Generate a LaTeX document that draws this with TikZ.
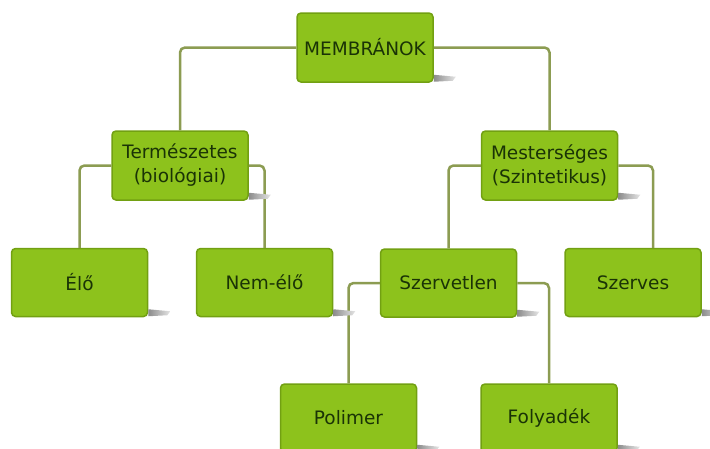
\documentclass[tikz,border=0pt]{standalone}
\usepackage{fontspec}
\setmainfont{DejaVu Sans}
\usepackage{xcolor}
\usetikzlibrary{positioning}

\definecolor{boxfill}{HTML}{8DC21C}
\definecolor{boxline}{HTML}{72A012}
\definecolor{boxtext}{HTML}{1A3306}
\definecolor{linkcol}{HTML}{8C9C52}

\begin{document}
\begin{tikzpicture}[x=1pt, y=-1pt,
  box/.style={draw=boxline, line width=1.5pt, fill=boxfill, rounded corners=4pt,
    minimum width=136pt, minimum height=68pt, align=center, inner sep=0pt,
    text=boxtext, font=\fontsize{18.5}{24}\selectfont},
  link/.style={linkcol, line width=2.5pt, rounded corners=5pt}]
\clip (0,0) rectangle (710,448);
\fill[white] (0,0) rectangle (710,448);

\node[box, minimum height=69pt] (MEM) at (365,47.5) {MEMBRÁNOK};

\node[box, minimum height=69pt] (TER) at (180,165.5) {Természetes\\(biológiai)};
\node[box, minimum height=69pt] (MES) at (549.5,165.5) {Mesterséges\\(Szintetikus)};

\node[box] (ELO) at (79.5,282.5) {Élő};
\node[box] (NEM) at (264.5,282.5) {Nem-élő};
\node[box] (SZV) at (448.5,283) {Szervetlen};
\node[box] (SZS) at (633,282.5) {Szerves};

\node[box] (POL) at (348.5,418) {Polimer};
\node[box] (FOL) at (549,418) {Folyadék};

\draw[link] (MEM.west) -| (TER.north);
\draw[link] (MEM.east) -| (MES.north);
\draw[link] (TER.west) -| (ELO.north);
\draw[link] (TER.east) -| (NEM.north);
\draw[link] (MES.west) -| (SZV.north);
\draw[link] (MES.east) -| ([xshift=20pt]SZS.north);
\draw[link] (SZV.west) -| (POL.north);
\draw[link] (SZV.east) -| (FOL.north);

% shadows
\foreach \n in {MEM,TER,MES,ELO,NEM,SZV,SZS,POL,FOL}
  \shade[left color=black!45, right color=black!10]
    ([shift={(0,-8)}]\n.south east) -- ([shift={(22,-6)}]\n.south east)
    -- ([shift={(19,-2)}]\n.south east) -- ([shift={(0,-1)}]\n.south east) -- cycle;

\end{tikzpicture}
\end{document}
